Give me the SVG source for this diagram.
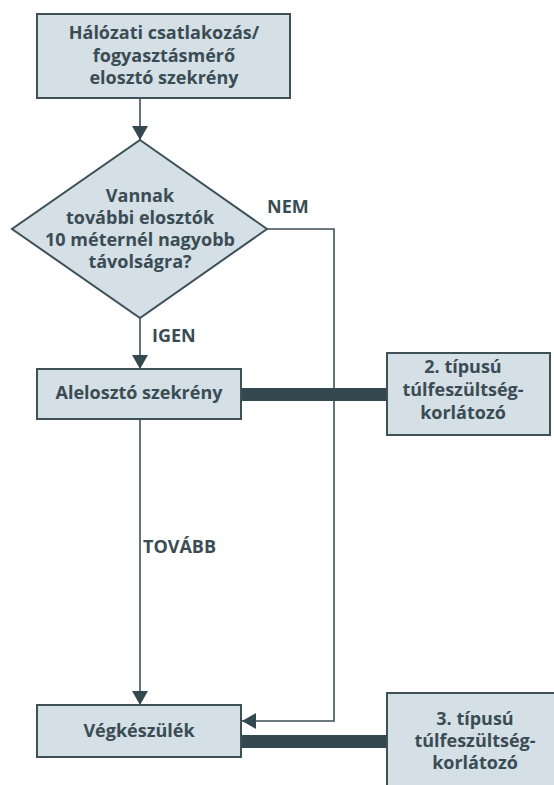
<svg xmlns="http://www.w3.org/2000/svg" width="554" height="785" viewBox="0 0 554 785">
<defs>
<style>
.box{fill:#d5dfe6;stroke:#3e5058;stroke-width:2}
.t{font-family:"Open Sans","Liberation Sans",sans-serif;font-weight:700;font-size:18px;fill:#3a4c54;text-anchor:middle}
.lbl{font-family:"Open Sans","Liberation Sans",sans-serif;font-weight:700;font-size:18px;fill:#3a4c54}
.ln{fill:none;stroke:#3e5058;stroke-width:1.6}
.bar{fill:#34484f}
</style>
<marker id="ah" markerWidth="14" markerHeight="16" refX="14" refY="8" orient="auto" markerUnits="userSpaceOnUse">
<path d="M0,0 L14,8 L0,16 Z" fill="#34484f"/>
</marker>
</defs>
<rect width="554" height="785" fill="#ffffff"/>
<g id="connectors">
<path class="ln" d="M140,98 L140,140" marker-end="url(#ah)"/>
<path class="ln" d="M140,318 L140,369" marker-end="url(#ah)"/>
<path class="ln" d="M140,419 L140,705" marker-end="url(#ah)"/>
<path class="ln" d="M267,229 L334,229 L334,721 L242,721" marker-end="url(#ah)"/>
<rect class="bar" x="241" y="388" width="146" height="13"/>
<rect class="bar" x="241" y="735" width="146" height="13"/>
<text class="lbl" x="267" y="213">NEM</text>
<text class="lbl" x="152" y="342">IGEN</text>
<text class="lbl" x="143" y="553">TOVÁBB</text>
</g>
<g id="n-halozati">
<rect class="box" x="37" y="14" width="253" height="84"/>
<text class="t" x="164" y="39">Hálózati csatlakozás/</text>
<text class="t" x="164" y="62">fogyasztásmérő</text>
<text class="t" x="164" y="84">elosztó szekrény</text>
</g>
<g id="n-dontes">
<path class="box" d="M140,140 L267,229 L140,318 L12,229 Z"/>
<text class="t" x="140" y="202">Vannak</text>
<text class="t" x="140" y="224">további elosztók</text>
<text class="t" x="140" y="246">10 méternél nagyobb</text>
<text class="t" x="140" y="268">távolságra?</text>
</g>
<g id="n-aleloszto">
<rect class="box" x="37" y="369" width="204" height="50"/>
<text class="t" x="139" y="399">Alelosztó szekrény</text>
</g>
<g id="n-tipus2">
<rect class="box" x="387" y="353" width="163" height="82"/>
<text class="t" x="463" y="373">2. típusú</text>
<text class="t" x="463" y="396">túlfeszültség-</text>
<text class="t" x="463" y="419">korlátozó</text>
</g>
<g id="n-vegkeszulek">
<rect class="box" x="37" y="705" width="204" height="52"/>
<text class="t" x="139" y="737">Végkészülék</text>
</g>
<g id="n-tipus3">
<rect class="box" x="387" y="693" width="180" height="100"/>
<text class="t" x="475" y="725">3. típusú</text>
<text class="t" x="475" y="747">túlfeszültség-</text>
<text class="t" x="475" y="769">korlátozó</text>
</g>
</svg>
